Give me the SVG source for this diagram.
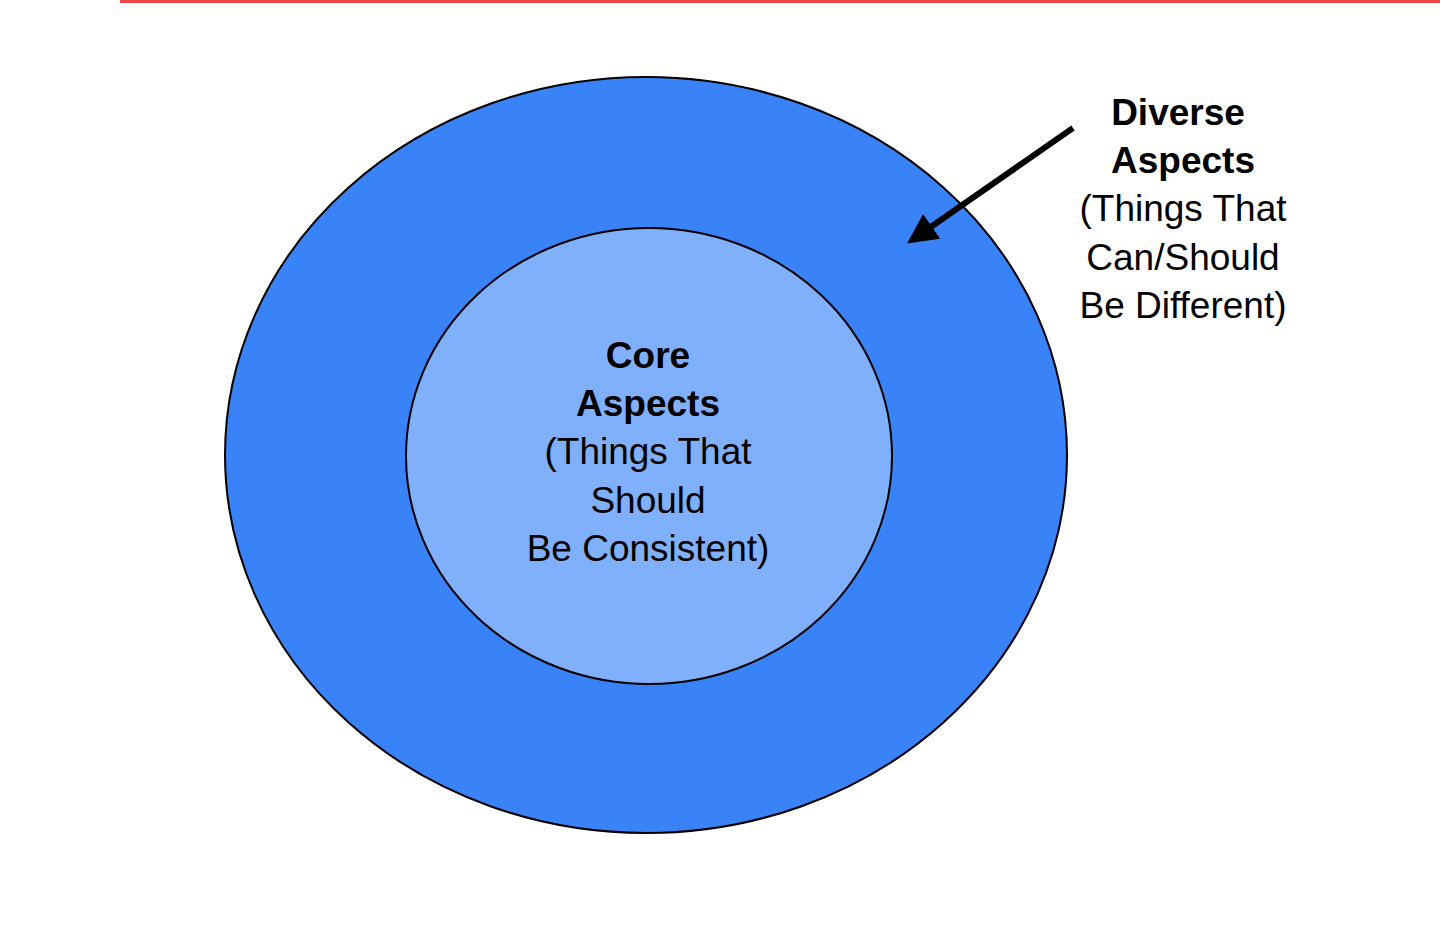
<svg xmlns="http://www.w3.org/2000/svg" width="1440" height="927" viewBox="0 0 1440 927">
<style>
text{font-family:"Liberation Sans",Arial,sans-serif;font-size:37px;fill:#000;text-anchor:middle}
.b{font-weight:bold}
</style>
<defs><marker id="ah" viewBox="0 0 10 10" refX="8" refY="5" markerWidth="5" markerHeight="5" orient="auto"><path d="M0,0L10,5L0,10z" fill="#000"/></marker></defs>
<rect width="1440" height="927" fill="#fff"/>
<rect x="120" y="0" width="1320" height="3" fill="#f24848"/>
<g id="diverse"><ellipse cx="646" cy="455" rx="421" ry="378" fill="#3a82f7" stroke="#000" stroke-width="2"/></g>
<g id="core"><ellipse cx="649" cy="456" rx="243" ry="228" fill="#80b0fc" stroke="#000" stroke-width="2"/>
<text x="648" y="368" class="b">Core</text><text x="648" y="416" class="b">Aspects</text>
<text x="648" y="464">(Things That</text><text x="648" y="513">Should</text><text x="648" y="561">Be Consistent)</text></g>
<g id="label"><text x="1178" y="125" class="b">Diverse</text><text x="1183" y="173" class="b">Aspects</text>
<text x="1183" y="221">(Things That</text><text x="1183" y="270">Can/Should</text><text x="1183" y="318">Be Different)</text></g>
<g id="connectors"><line x1="1073" y1="128" x2="912" y2="240" stroke="#000" stroke-width="6" marker-end="url(#ah)"/></g>
</svg>
